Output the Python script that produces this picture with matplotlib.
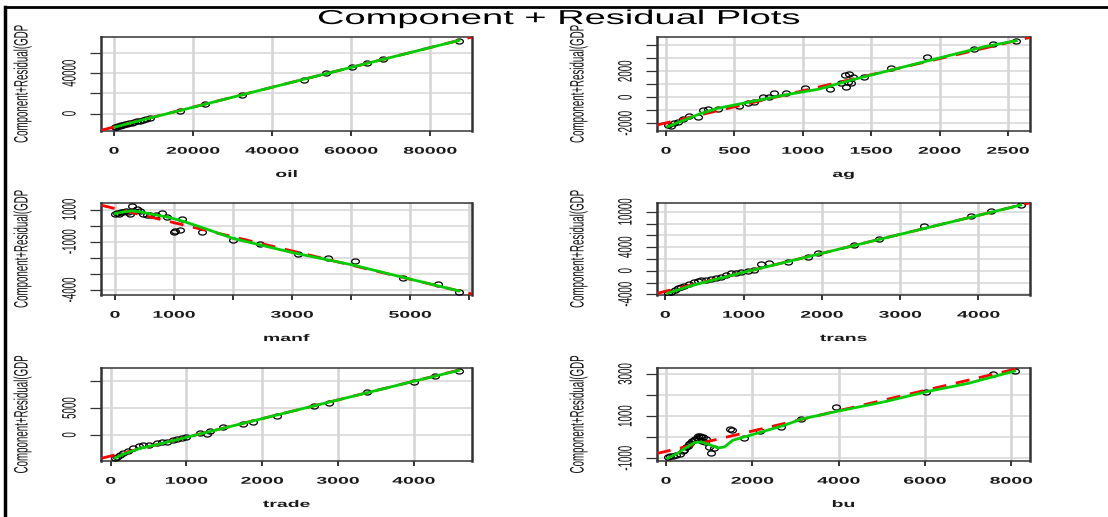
import numpy as np
import matplotlib
matplotlib.use("Agg")
import matplotlib.pyplot as plt
from matplotlib.patheffects import AbstractPathEffect
from matplotlib.transforms import Affine2D
from matplotlib.path import Path
from matplotlib.lines import Line2D
from matplotlib.text import Text

plt.rcParams['font.family'] = ['Liberation Sans', 'DejaVu Sans']

# ---------------- data ----------------
title = "Component + Residual Plots"
ylabel = "Component+Residual(GDP"

oil_x = [200, 600, 1000, 1400, 1800, 2300, 2800, 3300, 3900, 4500, 5100, 5800, 6500, 7300, 8200, 9200,
         16600, 23100, 32500, 48000, 53700, 60300, 63900, 68100, 87300]
oil_y = [-13300, -12900, -12500, -12200, -11700, -11100, -10700, -10100, -9600, -9000, -8400, -7700, -7000,
         -6200, -5300, -4500, 2700, 9300, 18900, 33800, 40000, 45800, 50100, 54200, 72500]
oil_smooth_x = [200, 5000, 10000, 20000, 35000, 50000, 65000, 80000, 87300]
oil_smooth_y = [-13300, -8500, -3500, 6300, 21200, 36000, 50800, 65500, 72600]
oil_fit = (-13300, 0.985)
oil_xticks = [0, 20000, 40000, 60000, 80000]
oil_xtick_labels = ["0", "20000", "40000", "60000", "80000"]
oil_yticks = [0, 20000, 40000, 60000]
oil_ytick_labels = ["0", "", "40000", ""]

ag_x = [12, 37, 61, 85, 122, 171, 232, 268, 305, 378, 537, 598, 646, 707, 756, 788, 878, 1017, 1202,
        1280, 1305, 1317, 1329, 1341, 1354, 1366, 1451, 1646, 1910, 2251, 2390, 2561]
ag_y = [-2128, -2205, -2000, -1872, -1692, -1436, -1538, -974, -923, -923, -667, -462, -333, 0, 0, 359,
        308, 692, 615, 1077, 1718, 821, 1205, 1795, 1077, 1590, 1538, 2231, 3077, 3692, 4103, 4359]
ag_smooth_x = [12, 256, 378, 622, 866, 1110, 1354, 1598, 1841, 2085, 2329, 2561]
ag_smooth_y = [-2250, -1231, -846, -333, 179, 615, 1333, 1974, 2615, 3256, 3897, 4359]
ag_fit = (-1965, 2.47)
ag_xticks = [0, 500, 1000, 1500, 2000, 2500]
ag_xtick_labels = ["0", "500", "1000", "1500", "2000", "2500"]
ag_yticks = [-2000, -1000, 0, 1000, 2000, 3000, 4000]
ag_ytick_labels = ["-2000", "", "0", "", "2000", "", ""]

manf_x = [0, 30, 60, 100, 140, 180, 220, 250, 280, 320, 380, 420, 480, 535, 600, 700, 790, 875,
          1000, 1015, 1105, 1130, 1470, 2000, 2455, 3100, 3610, 4060, 4880, 5475, 5830]
manf_y = [750, 800, 700, 850, 820, 900, 870, 750, 1200, 900, 1060, 880, 700, 650, 680, 650, 790, 545,
          -417, -340, -271, 440, -380, -920, -1150, -1790, -2040, -2200, -3280, -3650, -4140]
manf_smooth_x = [0, 141, 282, 423, 649, 875, 1129, 1439, 2003, 3019, 4035, 4881, 5830]
manf_smooth_y = [752, 855, 917, 855, 690, 545, 298, -74, -798, -1686, -2450, -3215, -4062]
manf_fit = (1061, -0.878)
manf_xticks = [0, 1000, 2000, 3000, 4000, 5000, 6000]
manf_xtick_labels = ["0", "1000", "", "3000", "", "5000", ""]
manf_yticks = [-4000, -3000, -2000, -1000, 0, 1000]
manf_ytick_labels = ["-4000", "", "", "-1000", "", "1000"]

trans_x = [30, 72, 120, 157, 200, 243, 300, 370, 420, 455, 520, 583, 650, 711, 780, 838, 900, 966,
           1051, 1136, 1221, 1328, 1562, 1817, 1945, 2413, 2732, 3306, 3902, 4157, 4540]
trans_y = [-3840, -3560, -3300, -2994, -2800, -2600, -2200, -1864, -1700, -1582, -1500, -1412, -1200,
           -1017, -700, -450, -300, -170, 0, 113, 1130, 1243, 1525, 2260, 2940, 4350, 5480, 7570, 9265,
           10110, 11130]
trans_smooth_x = [30, 300, 600, 1000, 1300, 1600, 2000, 2500, 3000, 3500, 4000, 4540]
trans_smooth_y = [-3800, -2650, -1600, -250, 700, 1674, 2967, 4584, 6200, 7817, 9433, 11180]
trans_fit = (-3499, 3.233)
trans_xticks = [0, 1000, 2000, 3000, 4000]
trans_xtick_labels = ["0", "1000", "2000", "3000", "4000"]
trans_yticks = [-4000, -2000, 0, 2000, 4000, 6000, 8000, 10000]
trans_ytick_labels = ["-4000", "", "0", "", "4000", "", "", "10000"]

trade_x = [57, 80, 120, 167, 230, 300, 370, 432, 500, 608, 680, 740, 820, 880, 938, 1000, 1180, 1269,
           1313, 1489, 1753, 1885, 2194, 2678, 2877, 3383, 4000, 4286, 4595]
trade_y = [-4375, -4060, -3800, -3440, -3000, -2500, -2100, -1875, -1900, -1560, -1400, -1250, -900,
           -700, -625, -300, 310, 125, 750, 1560, 2060, 2375, 3625, 5310, 5940, 8000, 9810, 10940, 12000]
trade_smooth_x = [57, 200, 400, 600, 1000, 1300, 1600, 2000, 2500, 3000, 3500, 4000, 4595]
trade_smooth_y = [-4300, -3400, -2450, -1850, -445, 602, 1649, 3045, 4790, 6535, 8280, 10025, 12050]
trade_fit = (-3935, 3.49)
trade_xticks = [0, 1000, 2000, 3000, 4000]
trade_xtick_labels = ["0", "1000", "2000", "3000", "4000"]
trade_yticks = [0, 5000, 10000]
trade_ytick_labels = ["0", "5000", ""]

bu_x = [40, 90, 160, 240, 320, 390, 420, 470, 500, 530, 560, 600, 640, 680, 710, 750, 780, 800, 830,
        860, 900, 930, 1000, 1040, 1120, 1480, 1520, 1810, 2170, 2670, 3120, 3930, 6030, 7570, 8080]
bu_y = [-960, -900, -900, -830, -800, -650, -600, -480, -420, -300, -280, -200, -140, -60, -30, 60, 80,
        0, -200, 20, -230, -80, -480, -740, -500, 390, 340, -30, 285, 500, 880, 1450, 2160, 2980, 3140]
bu_smooth_x = [40, 250, 425, 657, 812, 1043, 1198, 1353, 1546, 1816, 2164, 2744, 3130, 3981, 5063,
               6029, 7000, 8080]
bu_smooth_y = [-990, -780, -540, -254, -222, -381, -508, -460, -143, 16, 222, 571, 857, 1238, 1683,
               2159, 2556, 3143]
bu_fit = (-668, 0.482)
bu_xticks = [0, 2000, 4000, 6000, 8000]
bu_xtick_labels = ["0", "2000", "4000", "6000", "8000"]
bu_yticks = [-1000, 0, 1000, 2000, 3000]
bu_ytick_labels = ["-1000", "", "1000", "", "3000"]

# ---------------- layout ----------------
W, H = 1108, 517
SX = 2.0  # horizontal stretch of the screenshot text


class HStretch(AbstractPathEffect):
    def __init__(self, sx=2.0):
        super().__init__((0.0, 0.0))
        self.sx = sx

    def draw_path(self, renderer, gc, tpath, affine, rgbFace=None):
        ext = tpath.get_extents(affine)
        cx = 0.5 * (ext.x0 + ext.x1)
        t = affine + Affine2D().translate(-cx, 0).scale(self.sx, 1).translate(cx, 0)
        renderer.draw_path(gc, tpath, t, rgbFace)


fig = plt.figure(figsize=(W / 100, H / 100), dpi=100)
fig.patch.set_facecolor("white")

cols = [(101, 472), (657, 1030)]
rows = [(37, 131), (203, 295), (368, 461)]

panels = [
    ("oil", oil_x, oil_y, oil_smooth_x, oil_smooth_y, oil_fit, oil_xticks, oil_xtick_labels,
     oil_yticks, oil_ytick_labels, (-3300, 90600), (-17300, 76000)),
    ("ag", ag_x, ag_y, ag_smooth_x, ag_smooth_y, ag_fit, ag_xticks, ag_xtick_labels,
     ag_yticks, ag_ytick_labels, (-66, 2661), (-2590, 4640)),
    ("manf", manf_x, manf_y, manf_smooth_x, manf_smooth_y, manf_fit, manf_xticks, manf_xtick_labels,
     manf_yticks, manf_ytick_labels, (-237, 6050), (-4310, 1407)),
    ("trans", trans_x, trans_y, trans_smooth_x, trans_smooth_y, trans_fit, trans_xticks,
     trans_xtick_labels, trans_yticks, trans_ytick_labels, (-106, 4658), (-4124, 11525)),
    ("trade", trade_x, trade_y, trade_smooth_x, trade_smooth_y, trade_fit, trade_xticks,
     trade_xtick_labels, trade_yticks, trade_ytick_labels, (-128, 4770), (-4875, 12500)),
    ("bu", bu_x, bu_y, bu_smooth_x, bu_smooth_y, bu_fit, bu_xticks, bu_xtick_labels,
     bu_yticks, bu_ytick_labels, (-209, 8436), (-1127, 3286)),
]

tt = np.linspace(0, 2 * np.pi, 41)
ellipse = Path(np.column_stack([np.cos(tt), 0.65 * np.sin(tt)]), closed=True)

for i, (name, x, y, smx, smy, fit, xt, xtl, yt, ytl, xlim, ylim) in enumerate(panels):
    r, c = divmod(i, 2)
    x0, x1 = cols[c]
    y0, y1 = rows[r]
    wpx, hpx = x1 - x0, y1 - y0
    ax = fig.add_axes([x0 / W, 1 - y1 / H, wpx / W, hpx / H])
    ax.set_xlim(*xlim)
    ax.set_ylim(*ylim)
    ax.set_axisbelow(True)
    ax.xaxis.grid(True, color="#D6D6D6", lw=1.9)
    ax.yaxis.grid(True, color="#D6D6D6", lw=1.1)

    ax.plot(x, y, linestyle="none", marker=ellipse, ms=5.6, mfc="none", mec="black", mew=0.9,
            zorder=3)
    ax.axline((0, fit[0]), slope=fit[1], color="#FF0000", lw=2, ls=(0, (5, 3.5)), zorder=4)
    ax.plot(smx, smy, color="#00CD00", lw=2, zorder=5)

    ax.set_xticks(xt, labels=xtl, fontsize=7, color="#1a1a1a", fontweight="bold")
    ax.set_yticks(yt, labels=ytl, fontsize=7, color="#111111", rotation=90, ha="center",
                  va="center")
    ax.tick_params(axis="x", length=3.6, width=1.4, pad=7, color="#333333")
    ax.tick_params(axis="y", length=7.9, width=0.9, pad=15, color="#333333")
    for s in ("left", "right"):
        ax.spines[s].set_linewidth(1.8)
        ax.spines[s].set_color("#333333")
    for s in ("top", "bottom"):
        ax.spines[s].set_linewidth(1.1)
        ax.spines[s].set_color("#333333")

    ax.set_xlabel(name, fontsize=7, color="#1a1a1a", fontweight="bold")
    ax.xaxis.label.set_va("center")
    ax.xaxis.set_label_coords(0.5, -43 / hpx)
    ax.set_ylabel(ylabel, fontsize=7, color="#111111")
    ax.yaxis.label.set_va("center")
    ax.yaxis.set_label_coords(-79 / wpx, 0.5)

ttl = fig.text(559 / W, 1 - 18.5 / H, title, ha="center", va="center", fontsize=14.5,
               color="black")

# page border lines of the screenshot
fig.add_artist(Line2D([5 / W, 1], [1 - 7 / H, 1 - 7 / H], transform=fig.transFigure,
                      color="black", lw=2))
fig.add_artist(Line2D([5 / W, 5 / W], [0, 1 - 7 / H], transform=fig.transFigure,
                      color="black", lw=2.5))

fig.canvas.draw()
for t in fig.findobj(Text):
    if t.get_text():
        t.set_path_effects([HStretch(1.89 if t is ttl else SX)])

fig.savefig("out.png", dpi=100, facecolor="white")
